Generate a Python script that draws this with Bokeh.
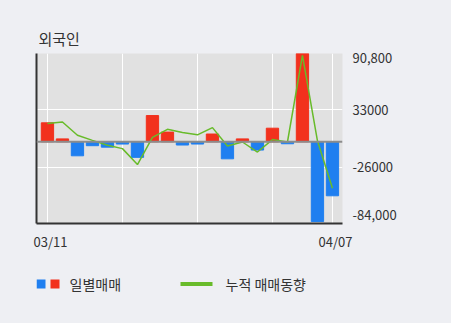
from bokeh.plotting import figure
from bokeh.models import Range1d, FixedTicker, LinearAxis, Span, ColumnDataSource
from bokeh.layouts import column
from bokeh.embed import file_html
from bokeh.resources import INLINE
from bokeh.core.properties import value

# Foreign investors: daily net trading and cumulative trend
dates = ["03/11", "03/12", "03/13", "03/16", "03/17", "03/18", "03/19", "03/20",
         "03/23", "03/24", "03/25", "03/26", "03/27", "03/30", "03/31", "04/01",
         "04/02", "04/03", "04/06", "04/07"]
daily = [19500, 3000, -14400, -4000, -5500, -2300, -16000, 27000, 10000, -3300,
         -2300, 8000, -17500, 3000, -8500, 14000, -2000, 90800, -82000, -55500]
trend = [18700, 20400, 6700, 1500, -3600, -7000, -23400, 4600, 12800, 9500,
         7200, 14600, -4300, -200, -10500, 2300, -200, 88900, 1000, -47800]
y_ticks = [90800, 33000, -26000, -84000]
y_tick_labels = ["90,800", "33000", "-26000", "-84,000"]
x_grid_idx = [0, 5, 10, 15, 19]
legend_labels = ["일별매매", "누적 매매동향"]

FONT = "Noto Sans CJK KR"
BG = "#eeeff3"
PLOT_BG = "#e1e1e1"
RED = "#f2311d"
BLUE = "#1f7ff0"
GREEN = "#68bb2a"
TEXT = "#333333"

W = 451
LEFT, RIGHT = 36, 342          # frame edges in page pixels
Y_MIN, Y_MAX = -84000, 90800
FRAME_H = 170
units_per_px = (Y_MAX - Y_MIN) / FRAME_H

idx = list(range(len(dates)))
colors = [RED if v >= 0 else BLUE for v in daily]
src = ColumnDataSource(dict(x=idx, top=daily, color=colors, trend=trend))

p = figure(width=W, height=260, output_backend="svg", toolbar_location=None,
           x_range=Range1d(-0.73, len(dates) - 1 + 0.67),
           y_range=Range1d(Y_MIN, Y_MAX),
           min_border_left=LEFT, min_border_right=W - RIGHT,
           min_border_top=53, min_border_bottom=37,
           background_fill_color=PLOT_BG, border_fill_color=BG,
           outline_line_color=None, title="외국인")

p.title.text_font = FONT
p.title.text_font_size = "15px"
p.title.text_font_style = "normal"
p.title.text_color = TEXT
p.title.align = "left"
p.title.offset = 2
p.title.standoff = 9

# grids
p.xgrid.ticker = FixedTicker(ticks=x_grid_idx)
p.ygrid.ticker = FixedTicker(ticks=y_ticks)
for g in (p.xgrid, p.ygrid):
    g.grid_line_color = "white"
    g.grid_line_width = 1

# left axis: line only
p.yaxis.ticker = FixedTicker(ticks=[])
p.yaxis.axis_line_color = TEXT
p.yaxis.axis_line_width = 2
p.yaxis.major_tick_line_color = None
p.yaxis.minor_tick_line_color = None
p.yaxis.major_tick_out = 0
p.yaxis.major_label_text_font_size = "0px"

# bottom axis: first and last date
x_lab_pos = [0.2, len(dates) - 1 + 0.2]
x_lab_txt = [dates[0], dates[-1]]
p.xaxis.ticker = FixedTicker(ticks=x_lab_pos)
p.xaxis.major_label_overrides = {k: v for k, v in zip(x_lab_pos, x_lab_txt)}
p.xaxis.axis_line_color = TEXT
p.xaxis.axis_line_width = 2
p.xaxis.major_tick_line_color = None
p.xaxis.minor_tick_line_color = None
p.xaxis.major_tick_out = 0
p.xaxis.major_label_standoff = 8
p.xaxis.major_label_text_font = FONT
p.xaxis.major_label_text_font_size = "13px"
p.xaxis.major_label_text_color = TEXT

# right axis: value labels, end labels nudged inside the frame
nudge_px = [5, 0, 0, -8]
y_lab_pos = [round(t - n * units_per_px) for t, n in zip(y_ticks, nudge_px)]
ry = LinearAxis(ticker=FixedTicker(ticks=y_lab_pos),
                major_label_overrides={k: v for k, v in zip(y_lab_pos, y_tick_labels)})
ry.axis_line_color = None
ry.major_tick_line_color = None
ry.minor_tick_line_color = None
ry.major_tick_out = 0
ry.major_label_standoff = 10
ry.major_label_text_font = FONT
ry.major_label_text_font_size = "13px"
ry.major_label_text_color = TEXT
p.add_layout(ry, "right")

p.vbar(x="x", top="top", bottom=0, width=0.82, color="color", source=src)
p.add_layout(Span(location=0, dimension="width", line_color="#8c8c8c", line_width=2))
p.line("x", "trend", line_color=GREEN, line_width=1.5, source=src)

# legend strip: same frame edges as the chart, x in page pixels
LG_H = 63
lg = figure(width=W, height=LG_H, output_backend="svg", toolbar_location=None,
            x_range=Range1d(LEFT, RIGHT), y_range=Range1d(0, LG_H),
            min_border_left=LEFT, min_border_right=W - RIGHT,
            min_border_top=0, min_border_bottom=0,
            background_fill_color=BG, border_fill_color=BG,
            outline_line_color=None, x_axis_location=None, y_axis_location=None)
lg.grid.visible = False
row_y = LG_H - 23.5
lg.quad(left=[36, 50], right=[45, 59], bottom=[row_y - 4.5] * 2, top=[row_y + 4.5] * 2,
        fill_color=[BLUE, RED], line_color=None)
lg.line(x=[180, 212], y=[row_y, row_y], line_width=4, line_color=GREEN)
lg.text(x=[69, 225], y=[row_y, row_y], text=legend_labels, text_font=value(FONT),
        text_font_size="14px", text_baseline="middle", text_color=TEXT)

layout = column(p, lg, spacing=0, styles={"background-color": BG})
open("out.html", "w").write(file_html(layout, INLINE))
